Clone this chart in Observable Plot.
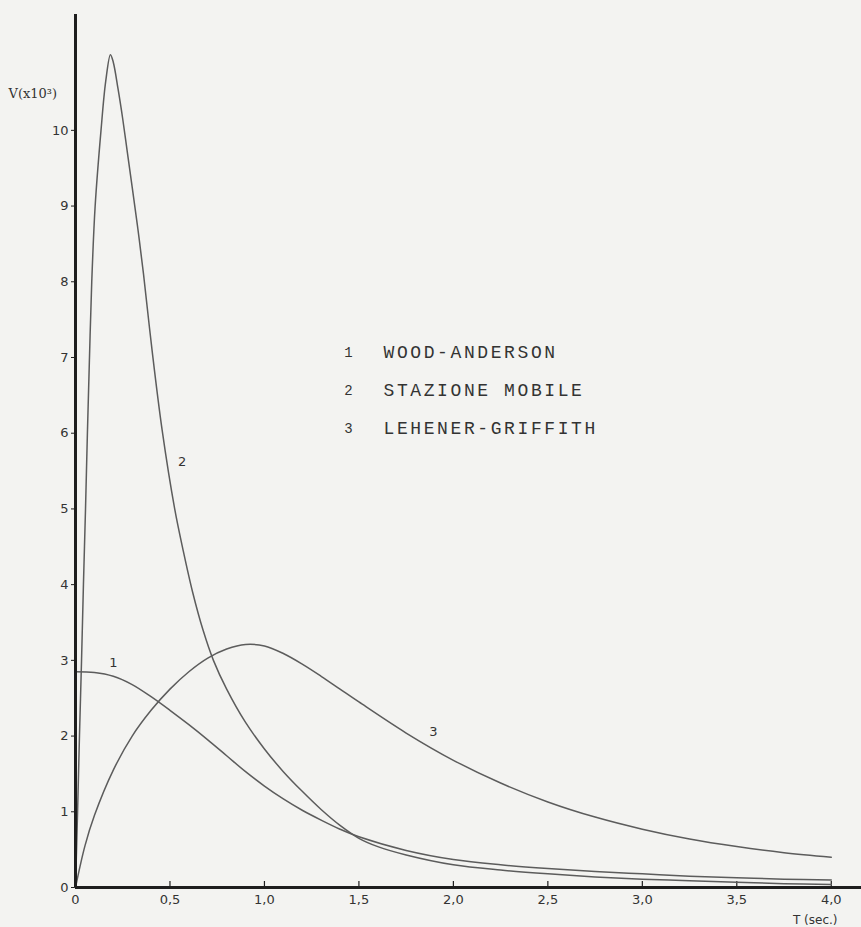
<!DOCTYPE html>
<html>
<head>
<meta charset="utf-8">
<script src="https://cdn.jsdelivr.net/npm/d3@7"></script>
<script src="https://cdn.jsdelivr.net/npm/@observablehq/plot@0.6"></script>
<style>
  html, body { margin: 0; padding: 0; background: #f3f3f1; }
  #chart svg { display: block; }
</style>
</head>
<body>
<div id="chart"></div>
<script>
// ---- Data ----
const seriesNames = ["WOOD-ANDERSON", "STAZIONE MOBILE", "LEHENER-GRIFFITH"];
const seriesIds = ["1", "2", "3"];

// Curve 1: Wood-Anderson
const woodT = [0, 0.1, 0.2, 0.3, 0.4, 0.5, 0.6, 0.7, 0.8, 0.9, 1.0, 1.1, 1.2, 1.3, 1.4, 1.5, 1.75, 2.0, 2.25, 2.5, 2.75, 3.0, 3.25, 3.5, 3.75, 4.0];
const woodV = [2.85, 2.84, 2.79, 2.68, 2.52, 2.34, 2.15, 1.95, 1.74, 1.53, 1.34, 1.17, 1.02, 0.89, 0.77, 0.67, 0.49, 0.37, 0.3, 0.25, 0.21, 0.18, 0.15, 0.13, 0.11, 0.1];

// Curve 2: Stazione mobile
const stazT = [0, 0.011, 0.021, 0.032, 0.042, 0.053, 0.063, 0.074, 0.086, 0.104, 0.135, 0.16, 0.185, 0.2, 0.225, 0.25, 0.275, 0.3, 0.33, 0.36, 0.405, 0.458, 0.525, 0.57, 0.62, 0.675, 0.73, 0.8, 0.9, 1.0, 1.1, 1.2, 1.3, 1.4, 1.5, 1.6, 1.75, 2.0, 2.25, 2.5, 2.75, 3.0, 3.25, 3.5, 3.75, 4.0];
const stazV = [0, 1, 2, 3, 4, 5, 6, 7, 8, 9, 10, 10.65, 11.0, 10.9, 10.55, 10.15, 9.7, 9.25, 8.7, 8.1, 7.1, 6.05, 5.0, 4.45, 3.9, 3.4, 3.0, 2.62, 2.18, 1.83, 1.53, 1.27, 1.03, 0.82, 0.65, 0.54, 0.43, 0.3, 0.23, 0.18, 0.14, 0.11, 0.09, 0.07, 0.05, 0.04];

// Curve 3: Lehener-Griffith
const lehT = [0, 0.05, 0.1, 0.2, 0.3, 0.4, 0.5, 0.6, 0.7, 0.8, 0.9, 1.0, 1.1, 1.2, 1.3, 1.4, 1.5, 1.75, 2.0, 2.25, 2.5, 2.75, 3.0, 3.25, 3.5, 3.75, 4.0];
const lehV = [0, 0.55, 0.95, 1.55, 2.0, 2.34, 2.62, 2.85, 3.03, 3.15, 3.21, 3.19, 3.09, 2.95, 2.79, 2.62, 2.45, 2.04, 1.68, 1.38, 1.13, 0.93, 0.77, 0.64, 0.54, 0.46, 0.4];

// Axis ticks
const xTicks = [0, 0.5, 1.0, 1.5, 2.0, 2.5, 3.0, 3.5, 4.0];
const xTickLabels = ["0", "0,5", "1,0", "1,5", "2,0", "2,5", "3,0", "3,5", "4,0"];
const yTicks = [0, 1, 2, 3, 4, 5, 6, 7, 8, 9, 10];
const yAxisTitle = "V(x10³)";
const xAxisTitle = "T (sec.)";

// ---- Build tables ----
const curves = [
  woodT.map((t, i) => ({T: t, V: woodV[i], id: "1"})),
  stazT.map((t, i) => ({T: t, V: stazV[i], id: "2"})),
  lehT.map((t, i) => ({T: t, V: lehV[i], id: "3"}))
];

// curve labels anchored on data points
const labelAnchors = [
  {...curves[0][woodT.indexOf(0.2)], dx: 0, dy: -13},
  {...curves[1][stazT.indexOf(0.458)], dx: 20, dy: 32},
  {...curves[2][lehT.indexOf(2.0)], dx: -20, dy: -28}
];

const lineColor = "#5c5c5c";
const axisColor = "#1e1e1e";
const textColor = "#333";
const xFmt = (d) => xTickLabels[xTicks.indexOf(d)] ?? "";

const plot = Plot.plot({
  width: 861,
  height: 927,
  marginLeft: 75,
  marginRight: 0,
  marginTop: 14,
  marginBottom: 40,
  style: {background: "#f3f3f1", fontFamily: "DejaVu Sans", fontSize: "13px", color: textColor},
  x: {domain: [0, 4.16], ticks: xTicks, tickFormat: xFmt},
  y: {domain: [0, 11.53], ticks: yTicks},
  marks: [
    Plot.axisY({ticks: yTicks, tickSize: 4, tickPadding: 3, label: null, fill: textColor, stroke: axisColor, fontSize: 13}),
    Plot.axisX({ticks: xTicks, tickSize: 0, tickPadding: 7, label: null, fill: textColor, fontSize: 13, tickFormat: xFmt}),
    // upward tick marks on the x axis
    Plot.ruleX(xTicks, {x: (d) => d, y1: 0, y2: 0, insetTop: -6, stroke: axisColor, strokeWidth: 1.2}),
    ...curves.map((c) => Plot.line(c, {x: "T", y: "V", stroke: lineColor, strokeWidth: 1.5, curve: "catmull-rom"})),
    Plot.ruleY([0], {stroke: axisColor, strokeWidth: 3}),
    Plot.ruleX([0], {stroke: axisColor, strokeWidth: 3}),
    // curve labels
    ...labelAnchors.map((a) => Plot.text([a], {x: "T", y: "V", text: "id", dx: a.dx, dy: a.dy, fontSize: 13, fill: textColor, fontFamily: "DejaVu Sans"})),
    // legend
    ...seriesNames.map((name, i) => Plot.text([seriesIds[i]], {frameAnchor: "top-left", lineAnchor: "middle", dx: 273, dy: 338 + i * 38, text: (d) => d, textAnchor: "middle", fontSize: 14, fill: textColor, fontFamily: "Liberation Mono"})),
    ...seriesNames.map((name, i) => Plot.text([name], {frameAnchor: "top-left", lineAnchor: "middle", dx: 308, dy: 338 + i * 38, text: (d) => d, textAnchor: "start", fontSize: 18, fill: textColor, fontFamily: "Liberation Mono"})),
    // axis titles
    Plot.text([yAxisTitle], {frameAnchor: "top-left", lineAnchor: "middle", dx: -67, dy: 79, text: (d) => d, textAnchor: "start", fontSize: 13, fill: textColor, fontFamily: "DejaVu Serif"}),
    Plot.text([xAxisTitle], {frameAnchor: "bottom-right", lineAnchor: "middle", dx: -24, dy: 33, text: (d) => d, textAnchor: "end", fontSize: 12, fill: textColor, fontFamily: "DejaVu Sans"})
  ]
});

document.getElementById("chart").append(plot);
// letter spacing for legend names
d3.select(plot).selectAll("text").filter(function() { return seriesNames.includes(this.textContent); }).style("letter-spacing", "2.6px");
</script>
</body>
</html>
